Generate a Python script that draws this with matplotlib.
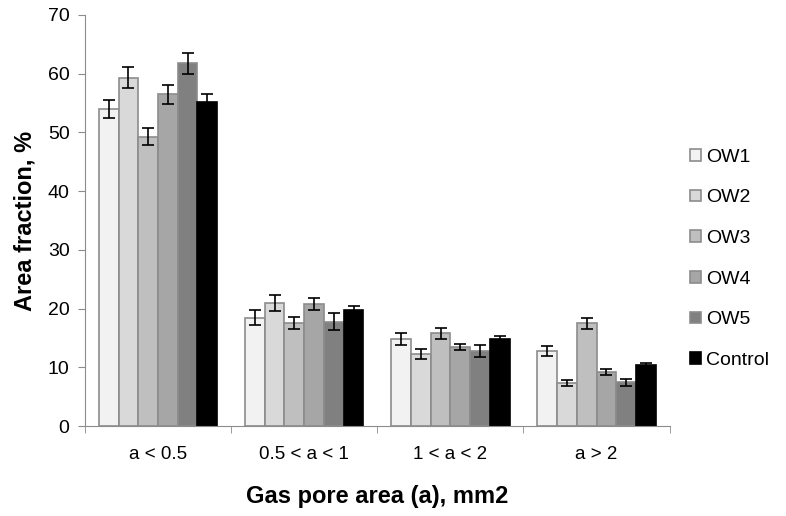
import matplotlib
matplotlib.use("Agg")
import matplotlib.pyplot as plt
import numpy as np

categories = ["a < 0.5", "0.5 < a < 1", "1 < a < 2", "a > 2"]
series = ["OW1", "OW2", "OW3", "OW4", "OW5", "Control"]
ow1 = [54.0, 18.5, 14.8, 12.8]
ow2 = [59.3, 21.0, 12.3, 7.4]
ow3 = [49.3, 17.6, 15.8, 17.5]
ow4 = [56.5, 20.8, 13.5, 9.2]
ow5 = [61.8, 17.8, 12.8, 7.5]
control = [55.2, 19.8, 14.8, 10.5]
err_ow1 = [1.5, 1.3, 1.0, 0.8]
err_ow2 = [1.8, 1.4, 0.9, 0.5]
err_ow3 = [1.4, 1.0, 0.9, 0.9]
err_ow4 = [1.6, 1.0, 0.5, 0.5]
err_ow5 = [1.8, 1.5, 1.0, 0.6]
err_control = [1.4, 0.7, 0.5, 0.3]

values = [ow1, ow2, ow3, ow4, ow5, control]
errors = [err_ow1, err_ow2, err_ow3, err_ow4, err_ow5, err_control]
colors = ["#f2f2f2", "#d9d9d9", "#bfbfbf", "#a6a6a6", "#808080", "#000000"]

fig = plt.figure(figsize=(7.86, 5.16), dpi=100)
ax = fig.add_axes([0.108, 0.174, 0.744, 0.797])

x = np.arange(len(categories))
w = 0.135
for i, (vals, errs, c) in enumerate(zip(values, errors, colors)):
    pos = x + (i - 2.5) * w
    ax.bar(pos, vals, width=w, color=c, edgecolor="#8c8c8c" if i < 5 else "#000000",
           linewidth=1.2, label=series[i], zorder=2)
    ax.errorbar(pos, vals, yerr=errs, fmt="none", ecolor="black", elinewidth=1.2,
                capsize=4, capthick=1.2, zorder=3)

ax.set_xlim(-0.5, 3.5)
ax.set_ylim(0, 70)
ax.set_yticks(range(0, 71, 10))
ax.set_xticks(x)
ax.set_xticklabels(categories, fontsize=13.5, family="Liberation Sans")
ax.set_xticks([-0.5, 0.5, 1.5, 2.5, 3.5], minor=True)
ax.tick_params(axis="x", which="major", length=0, pad=14)
ax.tick_params(axis="x", which="minor", length=5, color="#8c8c8c")
ax.tick_params(axis="y", length=5, color="#8c8c8c", labelsize=14, pad=6)
for lab in ax.get_yticklabels():
    lab.set_family("Liberation Sans")
for s in ["top", "right"]:
    ax.spines[s].set_visible(False)
ax.spines["left"].set_color("#8c8c8c")
ax.spines["bottom"].set_color("#8c8c8c")

ax.set_ylabel("Area fraction, %", fontsize=17, fontweight="bold", family="Liberation Sans", labelpad=8)
ax.set_xlabel("Gas pore area (a), mm2", fontsize=17, fontweight="bold", family="Liberation Sans", labelpad=16)

leg = ax.legend(loc="center left", bbox_to_anchor=(1.005, 0.407), frameon=False,
                prop={"family": "Liberation Sans", "size": 14}, handlelength=0.55,
                handleheight=0.55, labelspacing=1.22, handletextpad=0.25)

fig.savefig("out.png", dpi=100)
